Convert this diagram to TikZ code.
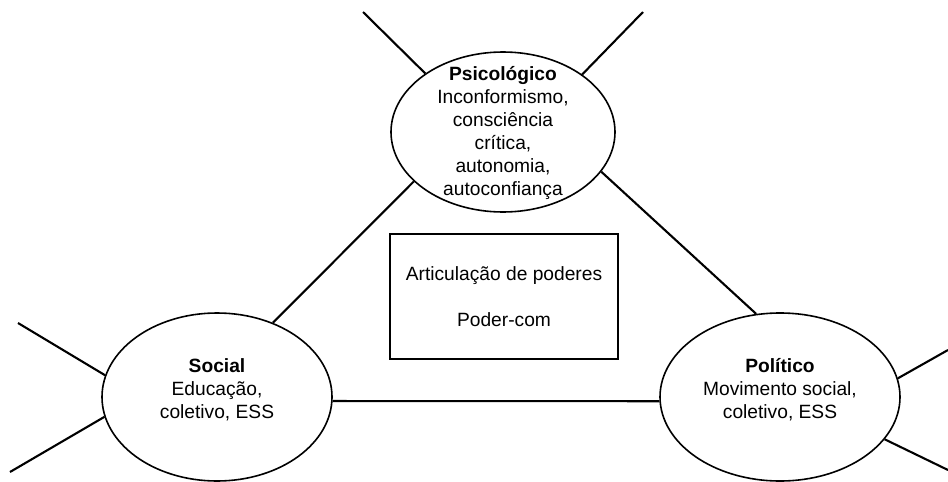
\documentclass[tikz,border=0pt]{standalone}
\usepackage{fontspec}
\setmainfont{Liberation Sans}
\usetikzlibrary{shapes.geometric}
\begin{document}
\begin{tikzpicture}[x=1pt,y=-1pt,
  oval/.style={draw, ellipse, line width=1.6pt, inner sep=0pt},
  txt/.style={align=center, font=\fontsize{19.2}{23}\selectfont, inner sep=0pt},
  link/.style={line width=2.1pt},
  boxstyle/.style={draw, rectangle, line width=1.6pt, inner sep=0pt, minimum width=228pt, minimum height=125pt}]
\useasboundingbox (0,0) rectangle (948,482);
% ellipses
\node[oval, minimum width=224pt, minimum height=160pt] (psi) at (503,132) {};
\node[oval, minimum width=230pt, minimum height=168pt] (soc) at (217,397) {};
\node[oval, minimum width=240pt, minimum height=168pt] (pol) at (780,397) {};
% texts
\node[txt] (psitext) at (503,133) {\textbf{Psicológico}\\Inconformismo,\\consciência\\crítica,\\autonomia,\\autoconfiança};
\node[txt] (soctext) at (217,390) {\textbf{Social}\\Educação,\\coletivo, ESS};
\node[txt] (poltext) at (780,390) {\textbf{Político}\\Movimento social,\\coletivo, ESS};
\node[boxstyle] (box) at (504,296.5) {};
\node[txt] (boxtext) at (504,296.5) {Articulação de poderes\\[23pt]Poder-com};
% free ends
\coordinate (a1) at (363,12);
\coordinate (a2) at (643,12);
\coordinate (b1) at (18,323);
\coordinate (b2) at (10,472);
\coordinate (c1) at (948,350);
\coordinate (c2) at (948,470);
% connectors
\draw[link] (a1) -- (psi.143.9);
\draw[link] (a2) -- (psi.36.9);
\draw[link] (psi.209.1) -- (soc.53.4);
\draw[link] (psi.338) -- (pol.106);
\draw[link] (soc.-2.5) -- (pol.182.4);
\draw[link] (b1) -- (soc.169.9);
\draw[link] (b2) -- (soc.190.4);
\draw[link] (c1) -- (pol.9);
\draw[link] (c2) -- (pol.338.8);
\end{tikzpicture}
\end{document}
